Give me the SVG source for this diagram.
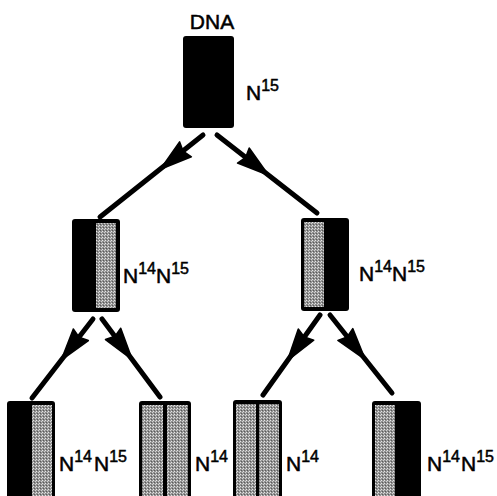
<svg xmlns="http://www.w3.org/2000/svg" width="497" height="496" viewBox="0 0 497 496">
  <style>
    .lbl { font-family: "Liberation Sans", Arial, sans-serif; font-size: 21px; fill: #000; stroke: #000; stroke-width: 0.5; }
    .sup { font-size: 16px; }
    .edge { stroke: #000; stroke-width: 5; fill: none; stroke-linecap: round; }
    .band { fill: #000; }
    .grey { fill: url(#stipple); }
  </style>
  <defs>
    <!-- halftone grey used for light strands -->
    <pattern id="stipple" width="3" height="3" patternUnits="userSpaceOnUse">
      <rect width="3" height="3" fill="#929292"/>
      <rect x="0" y="0" width="1" height="1" fill="#e6e6e6"/>
      <rect x="2" y="1" width="1" height="1" fill="#d2d2d2"/>
      <rect x="1" y="2" width="1" height="1" fill="#5a5a5a"/>
    </pattern>
    <!-- arrowhead pointing along +x, tip at the origin -->
    <path id="head" d="M2,0 L-30,-9.5 L-27,0 L-30,9.5 z" fill="#000" stroke="#000" stroke-width="1.5" stroke-linejoin="round"/>
  </defs>

  <g id="connectors">
    <path class="edge" d="M203,135 L100,217"/>
    <use href="#head" transform="translate(162,168) rotate(141.5)"/>
    <path class="edge" d="M217,135 L317,213"/>
    <use href="#head" transform="translate(267,174) rotate(38)"/>
    <path class="edge" d="M93,319 L32,398"/>
    <use href="#head" transform="translate(62.5,358.5) rotate(127.7)"/>
    <path class="edge" d="M102,319 L160,397"/>
    <use href="#head" transform="translate(131,358) rotate(53.4)"/>
    <path class="edge" d="M320,315 L263,395"/>
    <use href="#head" transform="translate(288.6,359) rotate(125.5)"/>
    <path class="edge" d="M330,315 L392,393"/>
    <use href="#head" transform="translate(364,358) rotate(51.5)"/>
  </g>

  <g id="parent">
    <text class="lbl" x="212" y="29" text-anchor="middle">DNA</text>
    <rect class="band" x="183" y="36" width="51" height="92" rx="3"/>
    <text class="lbl" x="246" y="100">N<tspan class="sup" dy="-9">15</tspan></text>
  </g>

  <g id="gen1-left">
    <rect class="band" x="72" y="219" width="48" height="93" rx="3"/>
    <rect class="grey" x="96" y="223" width="20" height="85"/>
    <text class="lbl" x="123" y="283">N<tspan class="sup" dy="-9">14</tspan><tspan dy="9">N</tspan><tspan class="sup" dy="-9">15</tspan></text>
  </g>

  <g id="gen1-right">
    <rect class="band" x="301" y="218" width="48" height="93" rx="3"/>
    <rect class="grey" x="304" y="222" width="20" height="85"/>
    <text class="lbl" x="359" y="281">N<tspan class="sup" dy="-9">14</tspan><tspan dy="9">N</tspan><tspan class="sup" dy="-9">15</tspan></text>
  </g>

  <g id="gen2-a">
    <rect class="band" x="7" y="401" width="48" height="100" rx="3"/>
    <rect class="grey" x="32" y="405" width="20" height="96"/>
    <text class="lbl" x="59" y="471">N<tspan class="sup" dy="-9">14</tspan><tspan dx="2" dy="9">N</tspan><tspan class="sup" dy="-9">15</tspan></text>
  </g>

  <g id="gen2-b">
    <rect class="band" x="139" y="401" width="52" height="100" rx="3"/>
    <rect class="grey" x="142" y="405" width="21" height="96"/>
    <rect class="grey" x="167" y="405" width="21" height="96"/>
    <text class="lbl" x="195" y="471">N<tspan class="sup" dy="-9">14</tspan></text>
  </g>

  <g id="gen2-c">
    <rect class="band" x="233" y="400" width="49" height="101" rx="3"/>
    <rect class="grey" x="236" y="404" width="20" height="97"/>
    <rect class="grey" x="259" y="404" width="20" height="97"/>
    <text class="lbl" x="286" y="471">N<tspan class="sup" dy="-9">14</tspan></text>
  </g>

  <g id="gen2-d">
    <rect class="band" x="372" y="401" width="49" height="100" rx="3"/>
    <rect class="grey" x="375" y="405" width="20" height="96"/>
    <text class="lbl" x="427" y="471">N<tspan class="sup" dy="-9">14</tspan><tspan dx="1" dy="9">N</tspan><tspan class="sup" dy="-9">15</tspan></text>
  </g>
</svg>
